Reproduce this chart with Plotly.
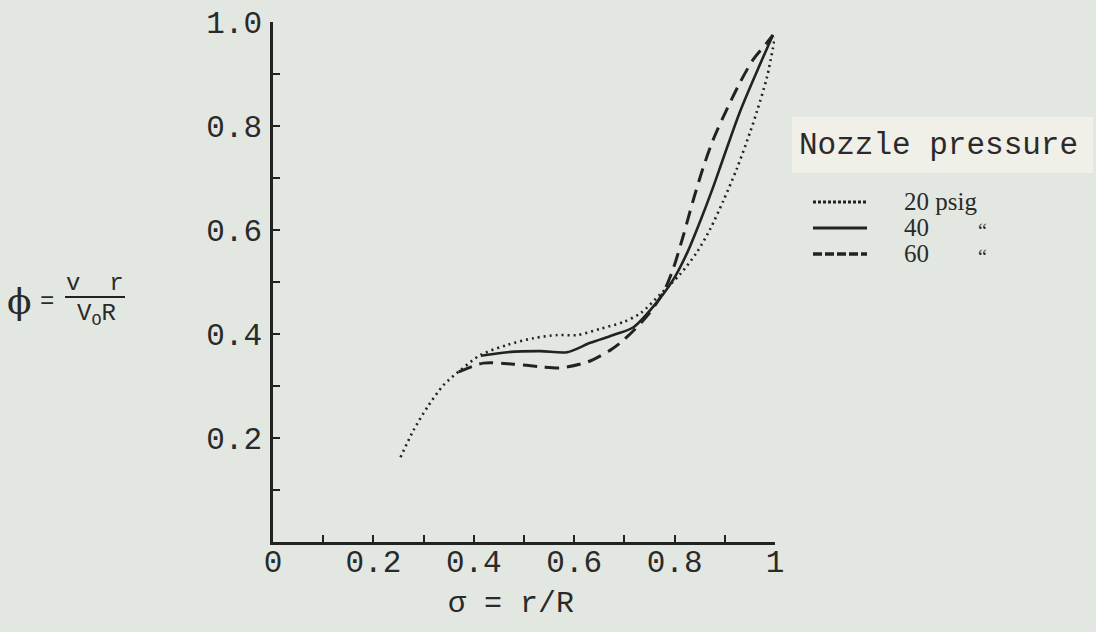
import plotly.graph_objects as go

# ---- data ----
sigma_20 = [0.254, 0.280, 0.308, 0.340, 0.374, 0.414, 0.467, 0.519, 0.567, 0.606, 0.652, 0.698,
            0.732, 0.771, 0.811, 0.845, 0.871, 0.897, 0.924, 0.950, 0.964, 0.984, 1.0]
phi_20 = [0.163, 0.215, 0.260, 0.302, 0.331, 0.360, 0.379, 0.392, 0.398, 0.398, 0.410, 0.423,
          0.440, 0.476, 0.515, 0.558, 0.602, 0.656, 0.718, 0.787, 0.828, 0.894, 0.971]

sigma_40 = [0.414, 0.467, 0.533, 0.586, 0.632, 0.678, 0.718, 0.757, 0.797, 0.825, 0.851, 0.877,
            0.897, 0.930, 0.964, 0.996]
phi_40 = [0.358, 0.365, 0.367, 0.365, 0.383, 0.398, 0.413, 0.452, 0.504, 0.556, 0.617, 0.683,
          0.738, 0.827, 0.905, 0.975]

sigma_60 = [0.370, 0.419, 0.479, 0.533, 0.573, 0.626, 0.672, 0.698, 0.742, 0.777, 0.797, 0.817,
            0.837, 0.857, 0.877, 0.905, 0.930, 0.956, 0.984, 0.996]
phi_60 = [0.327, 0.344, 0.342, 0.337, 0.335, 0.346, 0.369, 0.388, 0.431, 0.479, 0.525, 0.588,
          0.657, 0.720, 0.774, 0.834, 0.883, 0.927, 0.960, 0.975]

x_tickvals = [0, 0.2, 0.4, 0.6, 0.8, 1.0]
x_ticktext = ["0", "0.2", "0.4", "0.6", "0.8", "1"]
y_tickvals = [0.2, 0.4, 0.6, 0.8, 1.0]
y_ticktext = ["0.2", "0.4", "0.6", "0.8", "1.0"]

legend_title = "Nozzle pressure"
legend_labels = ["20 psig", "40", "60"]

# ---- layout geometry (pixels) ----
W, H = 1096, 632
L, R, T, B = 273, 321, 22, 90
PW, PH = W - L - R, H - T - B

def px(x):
    return (x - L) / PW

def py(y):
    return (H - B - y) / PH

INK = "#222222"
TXT = "#2a2a2a"
BG = "#e3e7e1"
MONO = "Liberation Mono, Courier New, monospace"
SERIF = "Liberation Serif, DejaVu Serif, serif"

fig = go.Figure()
styles = [
    (sigma_20, phi_20, dict(color=INK, width=2.6, dash="2px,4px")),
    (sigma_40, phi_40, dict(color=INK, width=2.6, dash="solid")),
    (sigma_60, phi_60, dict(color=INK, width=3.0, dash="14px,8px")),
]
for (xs, ys, ln), name in zip(styles, legend_labels):
    fig.add_trace(go.Scatter(x=xs, y=ys, mode="lines", name=name,
                             line=dict(shape="spline", smoothing=0.8, **ln),
                             cliponaxis=False, showlegend=False))

axis_common = dict(
    showgrid=False, zeroline=False, showline=True, linecolor=INK, linewidth=2.5,
    ticks="inside", ticklen=7, tickwidth=2, tickcolor=INK,
    tickfont=dict(family=MONO, size=31, color=TXT),
    minor=dict(dtick=0.1, ticks="inside", ticklen=7, tickwidth=2, tickcolor=INK, showgrid=False),
    range=[0, 1], fixedrange=True,
)
fig.update_xaxes(tickvals=x_tickvals, ticktext=x_ticktext, ticklabelstandoff=-10, **axis_common)
fig.update_yaxes(tickvals=y_tickvals, ticktext=y_ticktext, ticklabelstandoff=2, **axis_common)

shapes = []
annotations = []

def note(x, y, text, font, xanchor="center"):
    annotations.append(dict(x=px(x), y=py(y), xref="paper", yref="paper", text=text,
                            xanchor=xanchor, yanchor="middle", showarrow=False, font=font))

# x axis title
note(511, 604, "σ = r/R", dict(family=MONO, size=30, color=TXT))

# y axis title: phi = (v r)/(V_O R)
note(19, 301, "ϕ", dict(family="DejaVu Serif", size=36, color=TXT))
note(47, 301, "=", dict(family=MONO, size=24, color=TXT))
note(95, 283, "v  r", dict(family=MONO, size=24, color=TXT))
note(96, 315, "V<sub>O</sub>R", dict(family=MONO, size=24, color=TXT))
shapes.append(dict(type="line", xref="paper", yref="paper", x0=px(65), x1=px(125),
                   y0=py(297), y1=py(297), line=dict(color=INK, width=2)))

# legend box
shapes.append(dict(type="rect", xref="paper", yref="paper", x0=px(792), x1=px(1093),
                   y0=py(173), y1=py(117), fillcolor="#f0efe8", line=dict(width=0), layer="below"))
note(797, 145, legend_title, dict(family=MONO, size=31, color=TXT), xanchor="left")

rows_y = [201, 227, 253]
sample_dash = ["3px,2px", "solid", "9px,3px"]
for (xs, ys, ln), label, ry, sd in zip(styles, legend_labels, rows_y, sample_dash):
    shapes.append(dict(type="line", xref="paper", yref="paper", x0=px(813), x1=px(867),
                       y0=py(ry + 1), y1=py(ry + 1),
                       line=dict(color=INK, width=ln["width"] + 0.4, dash=sd)))
    note(902, ry, label, dict(family=SERIF, size=25, color=TXT), xanchor="left")
for ry in rows_y[1:]:
    note(982, ry + 4, "\u201c", dict(family=SERIF, size=20, color=TXT))

fig.update_layout(
    width=W, height=H, margin=dict(l=L, r=R, t=T, b=B, autoexpand=False),
    paper_bgcolor=BG, plot_bgcolor=BG, showlegend=False,
    shapes=shapes, annotations=annotations,
)

fig.write_html("out.html", config={"displayModeBar": False})
